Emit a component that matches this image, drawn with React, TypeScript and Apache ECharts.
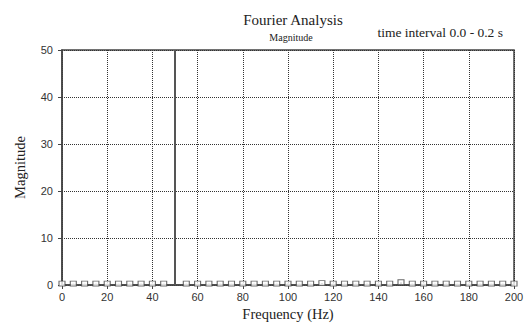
import React, { useEffect, useRef } from "react";
import * as echarts from "echarts";

// Spectrum sampled every 5 Hz (0.2 s window -> 5 Hz resolution)
const frequencies: number[] = [
  0, 5, 10, 15, 20, 25, 30, 35, 40, 45, 50, 55, 60, 65, 70, 75, 80, 85, 90, 95,
  100, 105, 110, 115, 120, 125, 130, 135, 140, 145, 150, 155, 160, 165, 170, 175,
  180, 185, 190, 195, 200,
];
const magnitudes: number[] = [
  0.3, 0.3, 0.3, 0.3, 0.3, 0.3, 0.3, 0.3, 0.3, 0.3, 54, 0.3, 0.3, 0.3, 0.3, 0.3,
  0.3, 0.3, 0.3, 0.3, 0.3, 0.3, 0.3, 0.4, 0.3, 0.3, 0.3, 0.3, 0.3, 0.3, 0.6, 0.3,
  0.3, 0.3, 0.3, 0.3, 0.3, 0.3, 0.3, 0.3, 0.3,
];

const chartTitle = "Fourier Analysis";
const chartSubtitle = "Magnitude";
const intervalNote = "time interval 0.0 - 0.2 s";

const serif = "'Liberation Serif', 'Times New Roman', serif";
const sans = "'Liberation Sans', Arial, sans-serif";

export default function App() {
  const ref = useRef<HTMLDivElement>(null);

  useEffect(() => {
    if (!ref.current) return;
    const chart = echarts.init(ref.current, undefined, { renderer: "svg" });
    const points = frequencies.map((f, i) => [f, magnitudes[i]]);

    chart.setOption({
      animation: false,
      backgroundColor: "#ffffff",
      title: [
        {
          text: chartTitle,
          left: 288,
          top: 7,
          textAlign: "center",
          textStyle: { fontFamily: serif, fontSize: 15, fontWeight: "normal", color: "#222" },
        },
        {
          text: chartSubtitle,
          left: 286,
          top: 27,
          textAlign: "center",
          textStyle: { fontFamily: serif, fontSize: 10, fontWeight: "normal", color: "#222" },
        },
        {
          text: intervalNote,
          right: 18,
          top: 20,
          textStyle: { fontFamily: serif, fontSize: 13.5, fontWeight: "normal", color: "#222" },
        },
      ],
      grid: {
        left: 62,
        right: 12,
        top: 50,
        bottom: 39,
        containLabel: false,
        outerBoundsMode: "none",
        show: true,
        borderColor: "#444",
        borderWidth: 1.5,
      },
      xAxis: {
        type: "value",
        min: 0,
        max: 200,
        interval: 20,
        name: "Frequency (Hz)",
        nameLocation: "middle",
        nameGap: 21,
        nameTextStyle: { fontFamily: serif, fontSize: 14.5, color: "#222" },
        axisLine: { show: true, onZero: false, lineStyle: { color: "#444", width: 1.5 } },
        axisTick: { show: true, length: 4, lineStyle: { color: "#444" } },
        axisLabel: { fontFamily: sans, fontSize: 11, color: "#333", margin: 6 },
        splitLine: { show: true, lineStyle: { type: [1, 1], color: "#333", width: 1 } },
      },
      yAxis: {
        type: "value",
        min: 0,
        max: 50,
        interval: 10,
        name: "Magnitude",
        nameLocation: "middle",
        nameGap: 35,
        nameTextStyle: { fontFamily: serif, fontSize: 14.5, color: "#222" },
        axisLine: { show: true, lineStyle: { color: "#444", width: 1.5 } },
        axisTick: { show: true, length: 4, lineStyle: { color: "#444" } },
        axisLabel: { fontFamily: sans, fontSize: 11, color: "#333", margin: 9 },
        splitLine: { show: true, lineStyle: { type: [1, 1], color: "#333", width: 1 } },
      },
      series: [
        {
          type: "bar",
          data: points,
          barWidth: 2,
          itemStyle: { color: "#555" },
          clip: true,
        },
        {
          type: "scatter",
          data: points,
          symbol: "rect",
          symbolSize: [6, 5],
          clip: true,
          itemStyle: { color: "#fff", borderColor: "#444", borderWidth: 1 },
        },
      ],
    });

    return () => chart.dispose();
  }, []);

  return <div ref={ref} style={{ width: 526, height: 324, position: "absolute", left: 0, top: 0 }} />;
}
